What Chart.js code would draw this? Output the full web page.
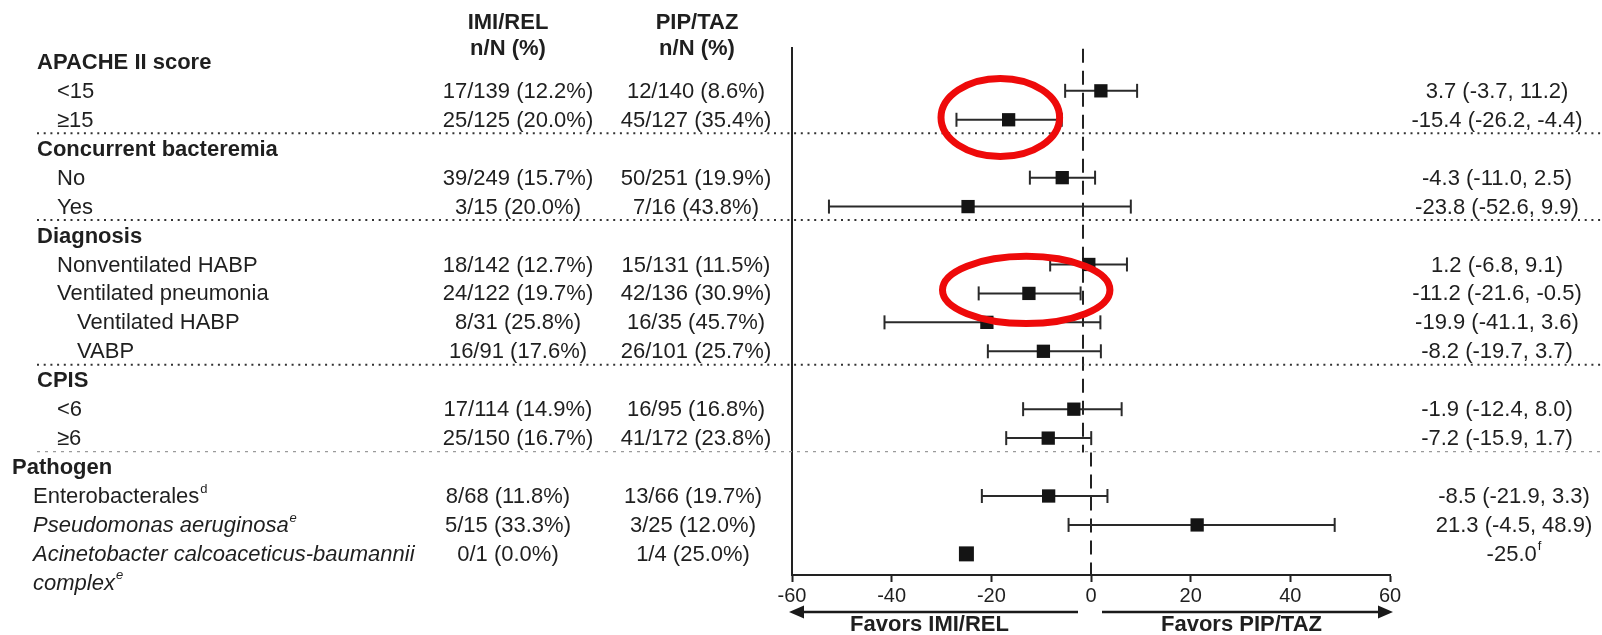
<!DOCTYPE html>
<html>
<head>
<meta charset="utf-8">
<script src="https://cdn.jsdelivr.net/npm/chart.js@4/dist/chart.umd.min.js"></script>
<style>
  html, body { margin: 0; padding: 0; background: #fff; }
  #wrap { width: 1602px; height: 635px; position: relative; }
</style>
</head>
<body>
<div id="wrap"><canvas id="forest" width="1602" height="635"></canvas></div>
<script>
// ---- Data ----------------------------------------------------------------
const groupNames = ['APACHE II score', 'Concurrent bacteremia', 'Diagnosis', 'CPIS', 'Pathogen'];

const subLabels = [
  '<15', '≥15',
  'No', 'Yes',
  'Nonventilated HABP', 'Ventilated pneumonia', 'Ventilated HABP', 'VABP',
  '<6', '≥6',
  'Enterobacterales', 'Pseudomonas aeruginosa', 'Acinetobacter calcoaceticus-baumannii\ncomplex'
];
const subGroupOf = [0, 0, 1, 1, 2, 2, 2, 2, 3, 3, 4, 4, 4];
const subLevel   = [1, 1, 1, 1, 1, 1, 2, 2, 1, 1, 1, 1, 1];
const subItalic  = [false, false, false, false, false, false, false, false, false, false, false, true, true];
const subNote    = ['', '', '', '', '', '', '', '', '', '', 'd', 'e', 'e'];

const imiRel = [
  '17/139 (12.2%)', '25/125 (20.0%)',
  '39/249 (15.7%)', '3/15 (20.0%)',
  '18/142 (12.7%)', '24/122 (19.7%)', '8/31 (25.8%)', '16/91 (17.6%)',
  '17/114 (14.9%)', '25/150 (16.7%)',
  '8/68 (11.8%)', '5/15 (33.3%)', '0/1 (0.0%)'
];
const pipTaz = [
  '12/140 (8.6%)', '45/127 (35.4%)',
  '50/251 (19.9%)', '7/16 (43.8%)',
  '15/131 (11.5%)', '42/136 (30.9%)', '16/35 (45.7%)', '26/101 (25.7%)',
  '16/95 (16.8%)', '41/172 (23.8%)',
  '13/66 (19.7%)', '3/25 (12.0%)', '1/4 (25.0%)'
];

// Difference in 28-day all-cause mortality (IMI/REL minus PIP/TAZ), with 95% CI
const riskDiff = [3.7, -15.4, -4.3, -23.8, 1.2, -11.2, -19.9, -8.2, -1.9, -7.2, -8.5, 21.3, -25.0];
const ciLower  = [-3.7, -26.2, -11.0, -52.6, -6.8, -21.6, -41.1, -19.7, -12.4, -15.9, -21.9, -4.5, null];
const ciUpper  = [11.2, -4.4, 2.5, 9.9, 9.1, -0.5, 3.6, 3.7, 8.0, 1.7, 3.3, 48.9, null];
const estNote  = ['', '', '', '', '', '', '', '', '', '', '', '', 'f'];

const xTicks = [-60, -40, -20, 0, 20, 40, 60];
const columnTitles = [['IMI/REL', 'n/N (%)'], ['PIP/TAZ', 'n/N (%)']];
const directionLabels = ['Favors IMI/REL', 'Favors PIP/TAZ'];

// ---- Row layout (one row per group header and per subgroup) --------------
const groupRow = [];
const subRow = [];
(function assignRows() {
  let r = 0;
  groupNames.forEach((g, gi) => {
    groupRow[gi] = r++;
    subGroupOf.forEach((sg, si) => { if (sg === gi) subRow[si] = r++; });
  });
})();

// ---- Styling ---------------------------------------------------------------
const INK = '#1f1f1f';
const FONT = '"Liberation Sans", Arial, Helvetica, sans-serif';
const RED = '#ee0a0a';
const LOWER_GROUP = 4;   // the Pathogen block is pasted from a separate panel

// The lower block sits slightly offset from the upper blocks
function blockShift(gi) {
  return gi === LOWER_GROUP
    ? { header: 12, level1: 33, level2: 33, imi: 508, pip: 693, est: 1514 }
    : { header: 37, level1: 57, level2: 77, imi: 518, pip: 696, est: 1497 };
}
function axisFor(gi) { return gi === LOWER_GROUP ? 'x' : 'xu'; }

// Rings that highlight subgroups of interest (value / row coordinates)
const highlightRings = [
  { x: -18.2, y: 1.92, rx: 11.9, ry: 1.35 },
  { x: -13.0, y: 7.88, rx: 16.8, ry: 1.16 }
];

// ---- Datasets ------------------------------------------------------------
const datasets = [];
const sectionSplit = (groupRow[LOWER_GROUP] - 1 + groupRow[LOWER_GROUP]) / 2;

// Line of no difference (upper panel, lower panel)
[['xu', -0.45, sectionSplit], ['x', sectionSplit, 17.73]].forEach(([ax, y0, y1]) => {
  datasets.push({
    type: 'scatter',
    xAxisID: ax,
    data: [{ x: 0, y: y0 }, { x: 0, y: y1 }],
    showLine: true,
    borderColor: '#222',
    borderWidth: 2,
    borderDash: [14, 8],
    pointRadius: 0,
    order: 10
  });
});

// Confidence intervals with end caps
riskDiff.forEach((d, i) => {
  if (ciLower[i] === null) return;
  datasets.push({
    type: 'scatter',
    xAxisID: axisFor(subGroupOf[i]),
    data: [{ x: ciLower[i], y: subRow[i] }, { x: ciUpper[i], y: subRow[i] }],
    showLine: true,
    borderColor: '#2a2a2a',
    borderWidth: 2,
    pointStyle: 'line',
    pointRotation: 90,
    pointRadius: 7,
    pointBorderWidth: 2,
    pointBorderColor: '#2a2a2a',
    order: 5
  });
});

// Point estimates, one dataset per panel
['xu', 'x'].forEach(ax => {
  const idx = riskDiff.map((d, i) => i).filter(i => axisFor(subGroupOf[i]) === ax);
  datasets.push({
    type: 'scatter',
    xAxisID: ax,
    data: idx.map(i => ({ x: riskDiff[i], y: subRow[i] })),
    pointStyle: 'rect',
    pointRadius: idx.map(i => (ciLower[i] === null ? 10.6 : 9.4)),
    backgroundColor: '#141414',
    borderWidth: 0,
    order: 1
  });
});

// ---- Text, separators, arrows and rings ------------------------------------
function fmt(v) { return v.toFixed(1); }

function textWithNote(ctx, text, note, x, y, align, font, noteFont) {
  ctx.font = font;
  const w = ctx.measureText(text).width;
  ctx.font = noteFont;
  const nw = note ? ctx.measureText(note).width + 1 : 0;
  let left;
  if (align === 'left') left = x;
  else if (align === 'center') left = x - (w + nw) / 2;
  else left = x - w - nw;
  ctx.textAlign = 'left';
  ctx.font = font;
  ctx.fillText(text, left, y);
  if (note) {
    ctx.font = noteFont;
    ctx.fillText(note, left + w + 1, y - 8);
  }
}

const forestDecor = {
  id: 'forestDecor',
  afterDatasetsDraw(chart) {
    const { ctx } = chart;
    const xs = chart.scales.x;
    const ys = chart.scales.y;
    const py = (r) => ys.getPixelForValue(r);
    const ty = (r) => py(r) + 1;
    const reg = `22px ${FONT}`;
    const bold = `bold 22px ${FONT}`;
    const ital = `italic 22px ${FONT}`;
    const note = `13px ${FONT}`;
    const noteIt = `italic 13px ${FONT}`;

    ctx.save();
    ctx.fillStyle = INK;
    ctx.textBaseline = 'middle';

    // column titles
    ctx.font = bold;
    ctx.textAlign = 'center';
    ctx.fillText(columnTitles[0][0], 508, 23);
    ctx.fillText(columnTitles[0][1], 508, 49);
    ctx.fillText(columnTitles[1][0], 697, 23);
    ctx.fillText(columnTitles[1][1], 697, 49);

    // group headers
    groupNames.forEach((g, gi) => {
      const s = blockShift(gi);
      ctx.font = bold;
      ctx.textAlign = 'left';
      ctx.fillText(g, s.header, ty(groupRow[gi]));
    });

    // subgroup rows
    subLabels.forEach((lab, i) => {
      const gi = subGroupOf[i];
      const s = blockShift(gi);
      const y = ty(subRow[i]);
      const x = subLevel[i] === 2 ? s.level2 : s.level1;
      const lines = lab.split('\n');
      const f = subItalic[i] ? ital : reg;
      const nf = subItalic[i] ? noteIt : note;
      lines.forEach((ln, li) => {
        const last = li === lines.length - 1;
        textWithNote(ctx, ln, last ? subNote[i] : '', x, ty(subRow[i] + li), 'left', f, nf);
      });

      textWithNote(ctx, imiRel[i], '', s.imi, y, 'center', reg, note);
      textWithNote(ctx, pipTaz[i], '', s.pip, y, 'center', reg, note);

      const est = ciLower[i] === null
        ? fmt(riskDiff[i])
        : `${fmt(riskDiff[i])} (${fmt(ciLower[i])}, ${fmt(ciUpper[i])})`;
      textWithNote(ctx, est, estNote[i], s.est, y, 'center', reg, note);
    });

    // dotted separators between groups
    ctx.lineCap = 'butt';
    for (let gi = 0; gi < groupNames.length - 1; gi++) {
      const y = (py(groupRow[gi + 1] - 1) + py(groupRow[gi + 1])) / 2 - 1;
      ctx.beginPath();
      if (gi < 3) {
        ctx.strokeStyle = '#333';
        ctx.lineWidth = 2;
        ctx.setLineDash([2, 4.7]);
      } else {
        ctx.strokeStyle = '#9a9a9a';
        ctx.lineWidth = 1.2;
        ctx.setLineDash([3, 5]);
      }
      ctx.moveTo(37, y);
      ctx.lineTo(1602, y);
      ctx.stroke();
    }
    ctx.setLineDash([]);

    // direction arrows and labels
    const ay = 612;
    const zero = xs.getPixelForValue(0);
    const xl = xs.getPixelForValue(-60);
    const xr = xs.getPixelForValue(60);
    ctx.strokeStyle = '#1a1a1a';
    ctx.fillStyle = '#1a1a1a';
    ctx.lineWidth = 2.4;
    ctx.beginPath();
    ctx.moveTo(zero - 13, ay); ctx.lineTo(xl + 10, ay);
    ctx.moveTo(zero + 11, ay); ctx.lineTo(xr - 8, ay);
    ctx.stroke();
    ctx.beginPath();
    ctx.moveTo(xl - 3, ay); ctx.lineTo(xl + 12, ay - 6.5); ctx.lineTo(xl + 12, ay + 6.5); ctx.closePath();
    ctx.fill();
    ctx.beginPath();
    ctx.moveTo(xr + 3, ay); ctx.lineTo(xr - 12, ay - 6.5); ctx.lineTo(xr - 12, ay + 6.5); ctx.closePath();
    ctx.fill();

    ctx.fillStyle = INK;
    ctx.font = bold;
    ctx.textAlign = 'center';
    ctx.fillText(directionLabels[0], (xl + zero) / 2 - 12, 625);
    ctx.fillText(directionLabels[1], (zero + xr) / 2 + 1, 625);

    // highlight rings
    ctx.strokeStyle = RED;
    ctx.lineWidth = 7;
    highlightRings.forEach(r => {
      const cx = xs.getPixelForValue(r.x);
      const cy = py(r.y);
      const rx = Math.abs(xs.getPixelForValue(r.x + r.rx) - cx);
      const ry = Math.abs(py(r.y + r.ry) - cy);
      ctx.beginPath();
      ctx.ellipse(cx, cy, rx, ry, 0, 0, Math.PI * 2);
      ctx.stroke();
    });

    ctx.restore();
  }
};

// ---- Chart -----------------------------------------------------------------
new Chart(document.getElementById('forest'), {
  type: 'scatter',
  data: { datasets },
  options: {
    responsive: false,
    animation: false,
    events: [],
    layout: { padding: { left: 792, right: 212, top: 48, bottom: 0 } },
    plugins: { legend: { display: false }, tooltip: { enabled: false } },
    scales: {
      x: {
        type: 'linear',
        position: 'bottom',
        min: xTicks[0],
        max: xTicks[xTicks.length - 1],
        afterBuildTicks(scale) { scale.ticks = xTicks.map(v => ({ value: v })); },
        afterFit(scale) { scale.height = 60; },
        ticks: { color: INK, font: { family: FONT, size: 20 }, padding: 2, maxRotation: 0, autoSkip: false },
        grid: { drawOnChartArea: false, drawTicks: true, tickLength: 7, tickColor: '#222', tickWidth: 2 },
        border: { display: true, color: '#222', width: 2 }
      },
      // upper panel keeps its own, slightly narrower horizontal scale
      xu: {
        type: 'linear',
        position: 'bottom',
        display: false,
        min: -60.25,
        max: 63.56
      },
      y: {
        type: 'linear',
        reverse: true,
        min: -0.48,
        max: 17.73,
        afterFit(scale) { scale.width = 0; },
        ticks: { display: false },
        grid: { drawOnChartArea: false, drawTicks: false },
        border: { display: true, color: '#222', width: 2 }
      }
    }
  },
  plugins: [forestDecor]
});
</script>
</body>
</html>
